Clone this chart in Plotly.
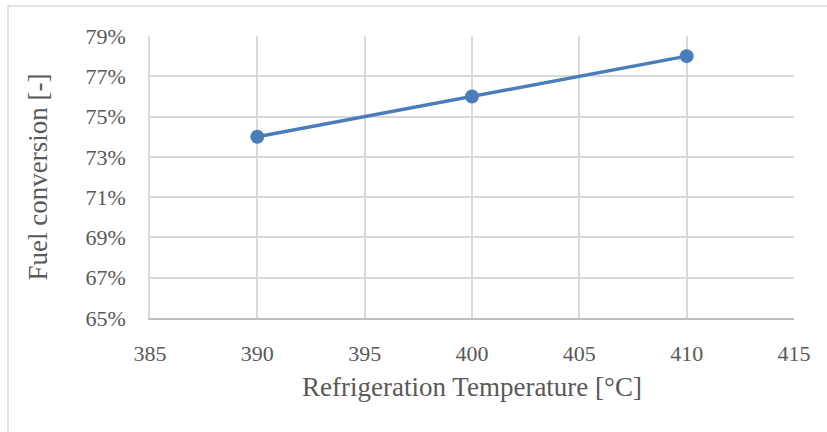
import plotly.graph_objects as go

temps = [390, 400, 410]
conversion = [0.74, 0.76, 0.78]
x_ticks = [385, 390, 395, 400, 405, 410, 415]
y_ticks = [0.65, 0.67, 0.69, 0.71, 0.73, 0.75, 0.77, 0.79]

font_family = "Liberation Serif, DejaVu Serif, serif"
text_color = "#595959"

fig = go.Figure()
fig.add_trace(go.Scatter(
    x=temps, y=conversion, mode="lines+markers",
    line=dict(color="#4a7ebb", width=3.5),
    marker=dict(color="#4a7ebb", size=14),
    cliponaxis=False,
))

fig.update_layout(
    width=827, height=432,
    margin=dict(l=150, r=33, t=36, b=114),
    paper_bgcolor="white", plot_bgcolor="white",
    showlegend=False,
    font=dict(family=font_family, color=text_color),
    shapes=[dict(type="rect", xref="paper", yref="paper",
                 x0=-142/644, x1=1.2, y0=-0.6, y1=1 + 30/282,
                 line=dict(color="#d9d9d9", width=1.5), layer="below")],
)
fig.update_xaxes(
    range=[385, 415], tickvals=x_ticks, ticktext=[str(v) for v in x_ticks],
    showgrid=True, gridcolor="#d9d9d9", gridwidth=1.5,
    showline=True, linecolor="#bfbfbf", linewidth=1.5, mirror=False,
    zeroline=False, ticks="outside", ticklen=15, tickcolor="rgba(0,0,0,0)",
    tickfont=dict(size=22, color=text_color),
    title=dict(text="Refrigeration Temperature [°C]", font=dict(size=27, color=text_color), standoff=12),
)
fig.update_yaxes(
    range=[0.65, 0.79], tickvals=y_ticks,
    ticktext=[f"{round(v*100)}%" for v in y_ticks],
    showgrid=True, gridcolor="#d9d9d9", gridwidth=1.5,
    showline=True, linecolor="#d9d9d9", linewidth=1.5,
    zeroline=False, ticks="outside", ticklen=18, tickcolor="rgba(0,0,0,0)",
    tickfont=dict(size=22, color=text_color),
    title=dict(text="Fuel conversion [-]", font=dict(size=27, color=text_color), standoff=30),
)

fig.write_html("out.html")
